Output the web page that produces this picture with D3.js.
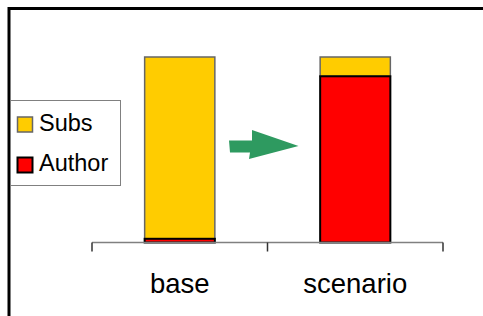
<!DOCTYPE html><html><head><meta charset="UTF-8"><script src="https://d3js.org/d3.v7.min.js"></script><style>
    body { margin: 0; background: #fff; }
    svg { display: block; font-family: "Liberation Sans", Arial, sans-serif; }
</style></head><body><div id="chart"></div><script>
    const categories = ["base", "scenario"];
    const authorValues = [2, 89.6];
    const subsValues = [98, 10.4];
    const seriesNames = ["Subs", "Author"];
    const seriesColors = ["#FFCC00", "#FF0000"];

    const fullWidth = 483, fullHeight = 316;

    const svg = d3.select('#chart').append('svg')
        .attr('width', fullWidth)
        .attr('height', fullHeight);

    // outer frame (only top and left visible)
    svg.append('path')
        .attr('d', 'M9,320 V8.5 H490')
        .attr('fill', 'none')
        .attr('stroke', '#000')
        .attr('stroke-width', 3);

    const x = d3.scaleBand()
        .domain(categories)
        .range([92, 443])
        .paddingInner(0.6)
        .paddingOuter(0.3);

    const y = d3.scaleLinear()
        .domain([0, 100])
        .range([242.5, 57]);

    const rows = categories.map((c, i) => ({cat: c, Author: authorValues[i], Subs: subsValues[i]}));
    const stack = d3.stack().keys(["Author", "Subs"])(rows);

    const strokeFor = {Author: '#000', Subs: '#666'};
    const colorFor = {Subs: seriesColors[0], Author: seriesColors[1]};

    // draw Subs first so Author's black outline sits on top
    [stack[1], stack[0]].forEach(layer => {
        svg.append('g').selectAll('rect')
            .data(layer)
            .enter().append('rect')
            .attr('x', d => x(d.data.cat))
            .attr('y', d => y(d[1]))
            .attr('width', x.bandwidth())
            .attr('height', d => y(d[0]) - y(d[1]))
            .attr('fill', colorFor[layer.key])
            .attr('stroke', strokeFor[layer.key])
            .attr('stroke-width', layer.key === 'Author' ? 2 : 1.5);
    });

    // category axis
    const axis = svg.append('g');
    axis.append('line')
        .attr('x1', 92).attr('x2', 443)
        .attr('y1', y(0)).attr('y2', y(0))
        .attr('stroke', '#808080').attr('stroke-width', 1.5);
    const tickPos = [92].concat(categories.map(c => x(c) + x.bandwidth() / 2 + x.step() / 2));
    axis.selectAll('.tick')
        .data(tickPos)
        .enter().append('line')
        .attr('x1', d => d).attr('x2', d => d)
        .attr('y1', y(0)).attr('y2', y(0) + 9)
        .attr('stroke', '#333').attr('stroke-width', 1.5);
    axis.selectAll('.lbl')
        .data(categories)
        .enter().append('text')
        .attr('x', d => x(d) + x.bandwidth() / 2)
        .attr('y', 293)
        .attr('text-anchor', 'middle')
        .attr('font-size', 27.5)
        .attr('fill', '#000')
        .text(d => d);

    // green arrow
    svg.append('path')
        .attr('d', 'M229,140.5 L252,140.5 L252,130 L298.5,146 L249,159 L250,152.5 L230,152.5 Z')
        .attr('fill', '#2E9A60');

    // legend
    const legend = svg.append('g');
    legend.append('rect')
        .attr('x', 10.5).attr('y', 100.5)
        .attr('width', 110).attr('height', 85)
        .attr('fill', '#fff')
        .attr('stroke', '#808080');
    const legendY = [117, 157.5];
    seriesNames.forEach((name, i) => {
        legend.append('rect')
            .attr('x', 17.5).attr('y', legendY[i])
            .attr('width', 15).attr('height', 15)
            .attr('fill', seriesColors[i])
            .attr('stroke', i === 0 ? '#666' : '#000')
            .attr('stroke-width', i === 0 ? 1.5 : 2);
        legend.append('text')
            .attr('x', 39).attr('y', legendY[i] + 13.5)
            .attr('font-size', 23.5)
            .attr('fill', '#000')
            .text(name);
    });
</script></body></html>
